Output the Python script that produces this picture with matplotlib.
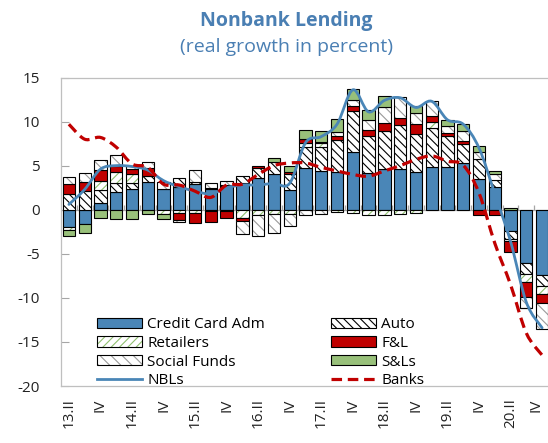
import numpy as np
import matplotlib.pyplot as plt
import matplotlib.transforms as mtransforms
from matplotlib.path import Path
from matplotlib.patches import PathPatch, Patch
from matplotlib.lines import Line2D

plt.rcParams['font.family'] = ['Open Sans', 'DejaVu Sans']
plt.rcParams['axes.unicode_minus'] = False
plt.rcParams['hatch.linewidth'] = 0.8

# quarterly data, 13.II .. 20.IV (31 quarters)
tick_labels = ["13.II", "IV", "14.II", "IV", "15.II", "IV", "16.II", "IV",
               "17.II", "IV", "18.II", "IV", "19.II", "IV", "20.II", "IV"]

credit_card = [-2.0, -1.6, 0.8, 2.0, 2.3, 3.1, 2.4, 2.6, 2.9, 2.3, 2.7, 3.05, 3.6, 4.0, 2.2,
               4.75, 4.35, 4.25, 6.6, 4.2, 4.6, 4.6, 4.25, 4.9, 4.85, 5.25, 3.5, 2.6,
               -2.4, -6.0, -7.45]
auto = [1.8, 2.1, 1.4, 1.0, 0.75, 0.7, 0.0, 1.0, 0.25, 0.2, 0.15, 0.8, 1.1, 1.4, 1.8,
        2.4, 2.75, 3.7, 4.65, 4.2, 4.35, 5.0, 4.3, 4.35, 3.5, 2.15, 2.2, 0.8,
        -0.9, -1.3, -1.2]
retailers = [-0.3, 0.0, 1.1, 1.3, 0.95, 0.0, -0.5, -0.35, -0.4, -0.2, -0.15, -0.9, -0.55, -0.5, -0.45,
             0.45, 0.5, -0.3, -0.4, -0.55, -0.55, -0.5, -0.4, 0.65, 0.0, 0.0, 0.0, 0.0,
             -0.2, -0.95, -0.95]
fin_leasing = [1.1, 1.1, 1.2, 0.7, 0.6, 0.9, 0.0, -0.8, -1.1, -1.2, -0.75, -0.4, 0.25, 0.0, 0.25,
               0.45, 0.1, 0.45, 0.5, 0.6, 0.85, 0.75, 1.15, 0.7, 0.3, 0.4, -0.55, -0.55,
               -1.3, -1.7, -0.95]
social_funds = [0.8, 1.0, 1.1, 1.2, 0.4, 0.7, 0.8, -0.3, 1.4, 0.5, 0.45, -1.5, -2.45, -2.15, -1.45,
                -0.6, -0.45, 0.4, 0.7, 1.2, 1.8, 2.4, 1.25, 1.7, 0.85, 1.15, 0.8, 0.7,
                0.0, -1.15, -3.0]
savings_loans = [-0.7, -1.0, -0.9, -1.0, -1.1, -0.5, -0.5, 0.0, 0.0, 0.0, 0.0, 0.0, 0.0, 0.45, 0.7,
                 1.05, 1.2, 1.5, 1.3, 1.15, 1.25, 0.0, 0.8, 0.0, 0.7, 0.75, 0.7, 0.25,
                 0.2, -0.1, 0.0]
nbls = [0.6, 2.3, 4.6, 5.0, 4.9, 4.5, 3.3, 2.6, 2.1, 1.8, 2.5, 2.8, 2.8, 3.0, 3.0,
        7.6, 8.3, 9.7, 13.6, 11.1, 12.4, 12.7, 11.6, 12.3, 10.2, 9.7, 7.0, 1.8,
        -3.6, -10.5, -13.4]
banks = [9.7, 8.0, 8.2, 7.1, 5.2, 4.8, 2.9, 2.8, 2.1, 1.4, 2.8, 2.9, 4.0, 5.0, 5.3,
         5.3, 4.8, 4.4, 4.0, 3.8, 4.4, 5.0, 5.7, 6.1, 5.5, 5.05, 1.9, -3.8,
         -8.5, -14.0, -16.5]

BLUE = "#4a86b7"
RED = "#c00000"
GREEN = "#98c07a"
TITLE_COLOR = "#4a7fb3"

# name, values, face, hatch, hatch colour
series = [
    ("Credit Card Adm", credit_card, BLUE, None, None),
    ("Auto", auto, "white", "\\\\\\\\", "black"),
    ("Retailers", retailers, "white", "////", "#8fbf6f"),
    ("F&L", fin_leasing, RED, None, None),
    ("Social Funds", social_funds, "white", "\\\\\\", "#9a9a9a"),
    ("S&Ls", savings_loans, GREEN, None, None),
]


def smooth_path(x, y):
    # Catmull-Rom spline through the points, written as cubic Bezier segments
    pts = np.column_stack([x, y]).astype(float)
    ext = np.vstack([pts[0], pts, pts[-1]])
    verts = [pts[0]]
    codes = [Path.MOVETO]
    for i in range(len(pts) - 1):
        p0, p1, p2, p3 = ext[i], ext[i + 1], ext[i + 2], ext[i + 3]
        verts += [p1 + (p2 - p0) / 6, p2 - (p3 - p1) / 6, p2]
        codes += [Path.CURVE4] * 3
    return Path(verts, codes)


fig = plt.figure(figsize=(5.48, 4.43), dpi=100)
ax = fig.add_axes([61 / 548, 1 - 386 / 443, 489 / 548, 308.5 / 443])

n = len(credit_card)
x = np.arange(n)
width = 0.78
pos_base = np.zeros(n)
neg_base = np.zeros(n)

for name, vals, face, hatch, hcolor in series:
    v = np.array(vals)
    bottom = np.where(v >= 0, pos_base, neg_base)
    keep = v != 0
    if hatch:
        ax.bar(x[keep], v[keep], width, bottom=bottom[keep], facecolor=face,
               edgecolor=hcolor, hatch=hatch, linewidth=0, zorder=3)
        ax.bar(x[keep], v[keep], width, bottom=bottom[keep], fill=False,
               edgecolor="black", linewidth=0.8, zorder=3)
    else:
        ax.bar(x[keep], v[keep], width, bottom=bottom[keep], facecolor=face,
               edgecolor="black", linewidth=0.8, zorder=3)
    pos_base = pos_base + np.where(v > 0, v, 0)
    neg_base = neg_base + np.where(v < 0, v, 0)

# NBL and bank lines, smoothed
ax.add_patch(PathPatch(smooth_path(x, nbls), fill=False, edgecolor=BLUE,
                       linewidth=2.0, zorder=4, capstyle="round"))
ax.add_patch(PathPatch(smooth_path(x, banks), fill=False, edgecolor=RED,
                       linewidth=2.3, linestyle=(0, (3.3, 1.8)), zorder=5))

# horizontal axis at zero with small category ticks
ax.axhline(0, color="#a6a6a6", linewidth=0.9, zorder=1)
ax.vlines(x[:-1] + 0.5, 0, 0.55, color="#a6a6a6", linewidth=0.9, zorder=1)

ax.set_xlim(-0.5, n - 0.5)
ax.set_ylim(-20, 15)
ax.set_yticks(np.arange(-20, 16, 5))
ax.set_xticks(x[::2])
ax.set_xticklabels(tick_labels, rotation=90)
ax.tick_params(axis="x", length=0, pad=9, labelsize=11, colors="#222222")
ax.tick_params(axis="y", direction="in", length=6, width=0.8, pad=15,
               labelsize=11, colors="#a6a6a6", labelcolor="#222222")
for side in ["top", "bottom", "left"]:
    ax.spines[side].set_color("#bfbfbf")
    ax.spines[side].set_linewidth(0.9)
ax.spines["right"].set_visible(False)

# pull the last quarter label in from the right edge
last = ax.get_xticklabels()[-1]
last.set_transform(last.get_transform() +
                   mtransforms.ScaledTranslation(-6 / 100, 0, fig.dpi_scale_trans))

fig.text(286 / 548, 1 - 21 / 443, "Nonbank Lending", ha="center", va="center",
         fontsize=14, fontweight="bold", color=TITLE_COLOR)
fig.text(286 / 548, 1 - 47 / 443, "(real growth in percent)", ha="center", va="center",
         fontsize=14, color=TITLE_COLOR)


def hatch_handle(hatch, hcolor):
    return (Patch(facecolor="white", edgecolor=hcolor, hatch=hatch, linewidth=0),
            Patch(fill=False, edgecolor="black", linewidth=0.8))


left_handles = [Patch(facecolor=BLUE, edgecolor="black", linewidth=0.8),
                hatch_handle("////", "#8fbf6f"),
                hatch_handle("\\\\\\", "#9a9a9a"),
                Line2D([], [], color=BLUE, linewidth=2.0)]
left_labels = ["Credit Card Adm", "Retailers", "Social Funds", "NBLs"]
right_handles = [hatch_handle("\\\\\\\\", "black"),
                 Patch(facecolor=RED, edgecolor="black", linewidth=0.8),
                 Patch(facecolor=GREEN, edgecolor="black", linewidth=0.8),
                 Line2D([], [], color=RED, linewidth=2.3, linestyle=(0, (3.3, 1.8)))]
right_labels = ["Auto", "F&L", "S&Ls", "Banks"]

leg_kw = dict(loc="upper left", bbox_transform=fig.transFigure, frameon=False,
              borderpad=0, borderaxespad=0, handlelength=2.95, handleheight=0.65,
              handletextpad=0.33, labelspacing=0.25, fontsize=11)
leg1 = ax.legend(left_handles, left_labels, bbox_to_anchor=(97 / 548, 1 - 317 / 443), **leg_kw)
ax.add_artist(leg1)
ax.legend(right_handles, right_labels, bbox_to_anchor=(331 / 548, 1 - 317 / 443), **leg_kw)

fig.savefig("out.png", dpi=100)
